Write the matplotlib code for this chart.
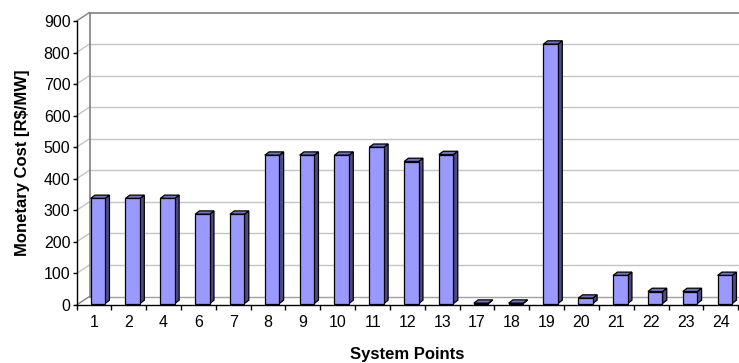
import matplotlib
matplotlib.use('Agg')
from matplotlib import pyplot as plt
from matplotlib.patches import Polygon
import numpy as np

plt.rcParams['font.family'] = ['Liberation Sans', 'DejaVu Sans']

points = ['1', '2', '4', '6', '7', '8', '9', '10', '11', '12', '13',
          '17', '18', '19', '20', '21', '22', '23', '24']
cost = [333, 333, 333, 283, 283, 470, 470, 470, 495, 450, 472,
        1, 1, 822, 17, 89, 38, 38, 89]
yticks = [0, 100, 200, 300, 400, 500, 600, 700, 800, 900]

W, H = 739, 363
fig = plt.figure(figsize=(W / 100, H / 100), dpi=100)
# plot area in pixels: front axis x 76.5..738.3, y 21..305 (from top)
ax = fig.add_axes([76.5 / W, (H - 305) / H, 661.8 / W, 284 / H])
n = len(points)
ax.set_xlim(0, n)
ax.set_ylim(0, 900)

# pixel -> data unit helpers for the fake 3d depth
px_x = n / 661.8
px_y = 900 / 284.0
dx, dy = 13 * px_x, 8.5 * px_y          # depth of the back wall
bx, by = 4.0 * px_x, 1.5 * px_y         # bars sit a little into the box
sx, sy = 4.3 * px_x, 3.3 * px_y         # bar side / top depth
bw = 14.5 * px_x

# back wall gridlines + diagonal ticks on the left wall
for v in yticks:
    c = '#808080' if v == 900 else '#c4c4c4'
    lw = 1.2 if v == 900 else 1.0
    if v == 0:
        c = '#a0a0a0'
    ax.plot([dx, n + dx], [v + dy, v + dy], color=c, lw=lw, clip_on=False, zorder=1)
    ax.plot([0, dx], [v, v + dy], color='#c4c4c4' if v not in (0, 900) else '#808080',
            lw=1.0, clip_on=False, zorder=1)
ax.plot([dx, dx], [dy, 900 + dy], color='#808080', lw=1.2, clip_on=False, zorder=1)

x = np.arange(n) + 0.5
vals = np.array(cost, dtype=float)
ax.bar(x + bx, vals, width=bw, bottom=by, color='#9999ff',
       edgecolor='black', linewidth=0.9, zorder=4, clip_on=False)
for xi, v in zip(x + bx, vals):
    l, r = xi - bw / 2, xi + bw / 2
    top = by + v
    side = Polygon([(r, by), (r + sx, by + sy), (r + sx, top + sy), (r, top)],
                   closed=True, facecolor='#4d4d85', edgecolor='black',
                   linewidth=0.9, zorder=3, clip_on=False)
    lid = Polygon([(l, top), (r, top), (r + sx, top + sy), (l + sx, top + sy)],
                  closed=True, facecolor='#7373c6', edgecolor='black',
                  linewidth=0.9, zorder=3, clip_on=False)
    ax.add_patch(side)
    ax.add_patch(lid)

for s in ['top', 'right']:
    ax.spines[s].set_visible(False)
ax.spines['left'].set_linewidth(1.0)
ax.spines['bottom'].set_linewidth(1.0)
ax.spines['left'].set_zorder(5)
ax.spines['bottom'].set_zorder(5)

ax.set_yticks(yticks)
ax.tick_params(axis='y', length=2.9, width=1.0, pad=1.5, labelsize=11.5)
ax.set_xticks(x)
ax.set_xticklabels(points)
ax.set_xticks(np.arange(n + 1), minor=True)
ax.tick_params(axis='x', which='major', length=0, pad=7.5, labelsize=11.5)
ax.tick_params(axis='x', which='minor', length=3.6, width=1.0)

fig.text(23 / W, 1 - 163 / H, 'Monetary Cost [R$/MW]', rotation=90,
         ha='center', va='center', fontsize=12, fontweight='bold')
fig.text(407 / W, 1 - 354 / H, 'System Points', ha='center', va='center',
         fontsize=12, fontweight='bold')

fig.savefig('out.png', dpi=100)
